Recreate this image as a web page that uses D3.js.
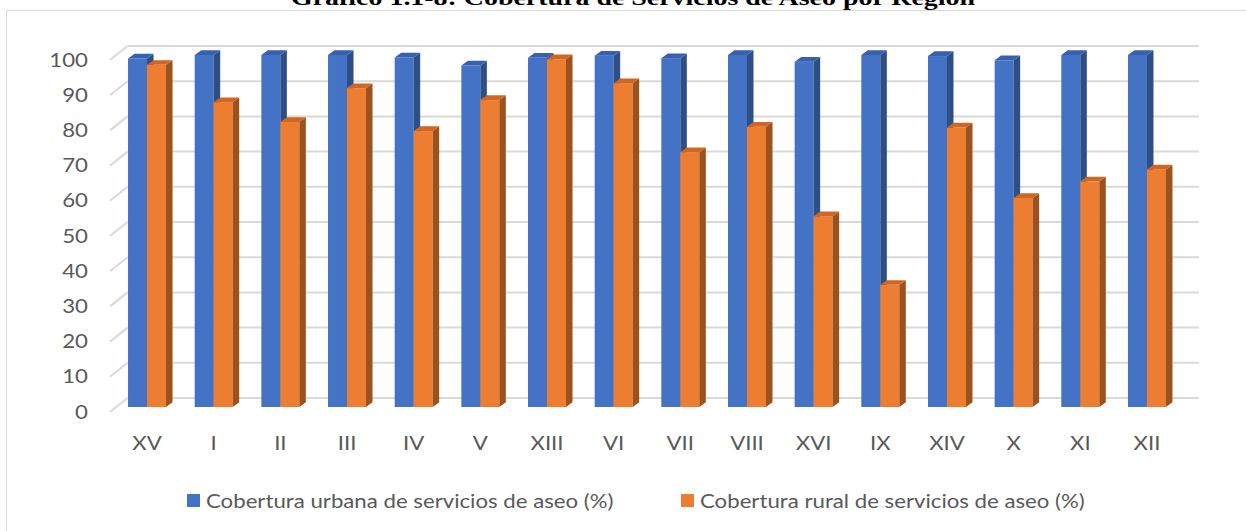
<!DOCTYPE html>
<html><head><meta charset="utf-8">
<script src="https://cdn.jsdelivr.net/npm/d3@7"></script>
<style>html,body{margin:0;padding:0;background:#fff;overflow:hidden}</style>
</head><body>
<svg id="c" width="1246" height="531"></svg>
<script>
const title = "Gráfico 1.1-8: Cobertura de Servicios de Aseo por Región";
const categories = ["XV","I","II","III","IV","V","XIII","VI","VII","VIII","XVI","IX","XIV","X","XI","XII"];
const urbana = [99, 100, 100, 100, 99.3, 97, 99.2, 99.8, 99.1, 100, 98.1, 100, 99.7, 98.5, 100, 100];
const rural  = [97.2, 86.6, 81, 90.6, 78.4, 87.2, 98.8, 92, 72.4, 79.6, 54.2, 34.7, 79.4, 59.4, 64.1, 67.5];
const yTicks = [0,10,20,30,40,50,60,70,80,90,100];
const seriesNames = ["Cobertura urbana de servicios de aseo (%)", "Cobertura rural de servicios de aseo (%)"];

const svg = d3.select("#c");
const font = "Lato, 'Open Sans', sans-serif";
const stretch = 1.17;
const colors = [
  {front:"#4472C4", side:"#2E4F86", top:"#3761AE"},
  {front:"#ED7D31", side:"#9C521D", top:"#CF6722"}
];

function label(g, x, y, txt, anchor) {
  return g.append("text")
    .attr("transform", `translate(${x},${y}) scale(${stretch},1)`)
    .attr("dy","0.35em").attr("text-anchor", anchor)
    .attr("font-family", font).attr("font-size", 19).attr("fill", "#595959").text(txt);
}

// chart border
svg.append("rect").attr("x",6.5).attr("y",10.5).attr("width",1400).attr("height",700)
  .attr("fill","none").attr("stroke","#D9D9D9").attr("stroke-width",1);

// title (cropped at the top like in the source)
svg.append("text").attr("x",633).attr("y",5).attr("text-anchor","middle")
  .attr("font-family","'Liberation Serif', serif").attr("font-weight","bold").attr("font-size",22)
  .attr("textLength",684).attr("lengthAdjust","spacingAndGlyphs")
  .attr("fill","#000").text(title);

// scales
const x0 = d3.scaleBand().domain(categories).range([113.7,1180.3]).paddingInner(0.43).paddingOuter(0.215);
const x1 = d3.scaleBand().domain([0,1]).range([0,x0.bandwidth()]);
const yBack = d3.scaleLinear().domain([0,100]).range([398,46]);
const yBar = d3.scaleLinear().domain([0,100]).range([407,55]);
const depthX = 17.5, depthY = 14;
const bdx = 6.5, bdy = 4.7;

// gridlines + y labels
const grid = svg.append("g");
yTicks.forEach(t => {
  const yb = yBack(t);
  grid.append("line").attr("x1",127.5).attr("x2",1199).attr("y1",yb).attr("y2",yb)
    .attr("stroke","#D9D9D9").attr("stroke-width",2);
  grid.append("line").attr("x1",127.5-depthX).attr("y1",yb+depthY).attr("x2",127.5).attr("y2",yb)
    .attr("stroke","#D9D9D9").attr("stroke-width",2);
  label(svg, 88, yb+depthY, t, "end");
});

// bars
const series = [urbana, rural];
const bars = svg.append("g");
categories.forEach((c,i) => {
  series.forEach((vals,s) => {
    const xl = x0(c) + x1(s), xr = xl + x1.bandwidth();
    const yt = yBar(vals[i]), yb = yBar(0);
    const col = colors[s];
    bars.append("rect").attr("x",xl).attr("y",yt).attr("width",xr-xl).attr("height",yb-yt).attr("fill",col.front);
    bars.append("path").attr("d",`M${xr},${yt}L${xr+bdx},${yt-bdy}L${xr+bdx},${yb-bdy}L${xr},${yb}Z`).attr("fill",col.side);
    bars.append("path").attr("d",`M${xl},${yt}L${xl+bdx},${yt-bdy}L${xr+bdx},${yt-bdy}L${xr},${yt}Z`).attr("fill",col.top);
  });
  label(svg, x0(c)+x0.bandwidth()/2, 443, c, "middle");
});

// legend
const legX = [187, 681];
seriesNames.forEach((n,s) => {
  svg.append("rect").attr("x",legX[s]).attr("y",494).attr("width",13).attr("height",13).attr("fill",colors[s].front);
  label(svg, legX[s]+19, 501, n, "start");
});
</script>
</body></html>
